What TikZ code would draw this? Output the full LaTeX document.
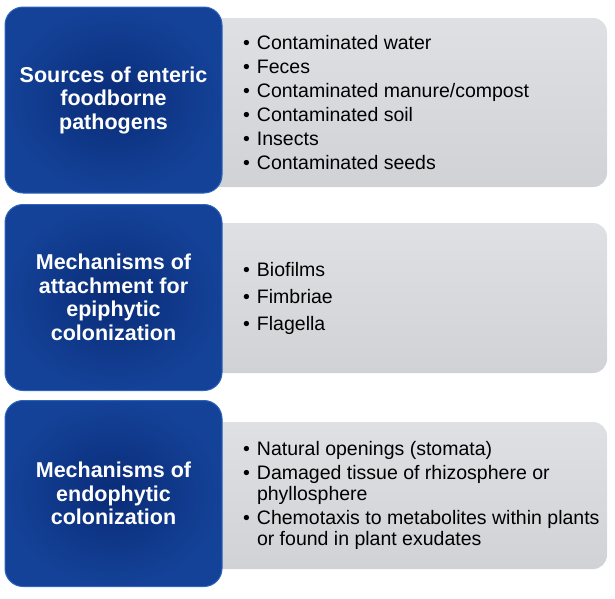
\documentclass[tikz,border=0pt]{standalone}
\usepackage{fontspec}
\setmainfont{Liberation Sans}
\usetikzlibrary{positioning}
\definecolor{navy}{RGB}{10,44,120}
\definecolor{navyedge}{RGB}{20,66,152}
\definecolor{navyrim}{RGB}{45,100,190}
\definecolor{panel}{RGB}{208,210,214}
\definecolor{panellight}{RGB}{222,224,228}
\newcommand{\blt}{\makebox[14pt][l]{\textbullet}}
\newcommand{\cont}{\hspace*{14pt}}

\begin{document}
\begin{tikzpicture}[x=1pt,y=-1pt,
  every node/.style={inner sep=0pt},
  headbox/.style={rounded corners=18pt, minimum width=217pt, minimum height=186pt,
    shading=radial, inner color=navy, outer color=navyedge, draw=navyrim, line width=1pt,
    text=white, align=center, font=\fontsize{21.5}{23.5}\selectfont\bfseries},
  listbox/.style={rounded corners=14pt, minimum width=407pt,
    top color=panellight, bottom color=panel},
  listtext/.style={align=left, anchor=west, font=\fontsize{19.5}{21}\selectfont}]
\useasboundingbox (0,0) rectangle (615,598);
% panels behind the headings
\node[listbox, minimum height=169pt] (lst1) at (403.5,102.5) {};
\node[listbox, minimum height=150pt] (lst2) at (403.5,298) {};
\node[listbox, minimum height=147pt] (lst3) at (403.5,495.5) {};
% headings
\node[headbox] (src) at (113.5,100) {Sources of enteric\\foodborne\\pathogens};
\node[headbox] (epi) at (113.5,297.5) {Mechanisms of\\attachment for\\epiphytic\\colonization};
\node[headbox] (endo) at (113.5,493.5) {Mechanisms of\\endophytic\\colonization};
% lists
\node[listtext, right=43pt of lst1.west] (srclist) {\blt Contaminated water\\[3pt]
  \blt Feces\\[3pt] \blt Contaminated manure/compost\\[3pt] \blt Contaminated soil\\[3pt]
  \blt Insects\\[3pt] \blt Contaminated seeds};
\node[listtext, right=43pt of lst2.west] (epilist) {\blt Biofilms\\[6pt]
  \blt Fimbriae\\[6pt] \blt Flagella};
\node[listtext, right=43pt of lst3.west] (endolist) {\blt Natural openings (stomata)\\[3pt]
  \blt Damaged tissue of rhizosphere or\\ \cont phyllosphere\\[3pt]
  \blt Chemotaxis to metabolites within plants\\ \cont or found in plant exudates};
\end{tikzpicture}
\end{document}
